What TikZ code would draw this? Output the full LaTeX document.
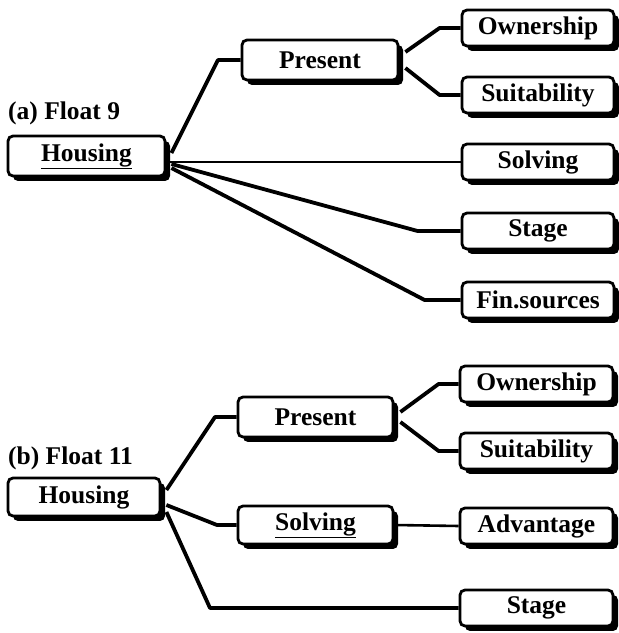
\documentclass[tikz,border=0pt]{standalone}
\usepackage{fontspec}
\setmainfont{Liberation Serif}
\usetikzlibrary{calc,shadows}

\tikzset{
  box/.style={draw, line width=2.8pt, rounded corners=5pt, fill=white,
    font=\fontsize{25.5}{29}\selectfont\bfseries,
    minimum width=152pt, minimum height=36pt, inner sep=0pt,
    drop shadow={shadow xshift=5pt, shadow yshift=-5pt, fill=black, opacity=1}},
  bigbox/.style={box, minimum width=156pt, minimum height=40pt},
  title/.style={anchor=base west, inner sep=0pt, font=\fontsize{25.5}{29}\selectfont\bfseries},
  link/.style={line width=3.8pt, line join=round},
  thinlink/.style={line width=2.6pt}
}

\begin{document}
\begin{tikzpicture}[x=1pt,y=1pt]
		\useasboundingbox (0,0) rectangle (619,633);
		
		%%%%% (a) Float 9 %%%%%
		
		\node[title] (titleA) at (8,513) {(a) Float 9};
		\node[bigbox, minimum width=157pt] (housingA) at (86.5,477) {\underline{Housing}};
		\node[bigbox] (presentA) at (320,573) {Present};
		
		\node[box] (ownA) at (538,605) {Ownership};
		\node[box] (suitA) at (538,538) {Suitability};
		\node[box] (solvA) at (538,471) {Solving};
		\node[box] (stageA) at (538,402) {Stage};
		\node[box] (finA) at (538,333) {Fin.sources};
		
		\draw[link] ([shift={(5,3)}]housingA.east) -- (218,573) -- (presentA.west);
		\draw[thinlink] (housingA.east |- solvA.west) -- (solvA.west);
		\draw[link] ([shift={(5,-8)}]housingA.east) -- ($(stageA.west)+(-43,0)$) -- (stageA.west);
		\draw[link] ([shift={(5,-12)}]housingA.east) -- ($(finA.west)+(-36,0)$) -- (finA.west);
		
		\draw[link] ([shift={(6,8)}]presentA.east) -- ($(ownA.west)+(-21,0)$) -- (ownA.west);
		\draw[link] ([shift={(6,-8)}]presentA.east) -- ($(suitA.west)+(-21,0)$) -- (suitA.west);
		
		%%%%% (b) Float 11 %%%%%
		
		\node[title] (titleB) at (8,168) {(b) Float 11};
		\node[bigbox, minimum width=152pt, minimum height=38pt] (housingB) at (84,136) {Housing};
		\node[bigbox, minimum width=155pt] (presentB) at (315.5,216) {Present};
		\node[bigbox, minimum width=155pt, minimum height=38pt] (solvB) at (315.5,108) {\underline{Solving}};
		
		\node[box, minimum width=153pt] (ownB) at (536.5,249) {Ownership};
		\node[box, minimum width=153pt] (suitB) at (536.5,182) {Suitability};
		\node[box, minimum width=153pt] (advB) at (536.5,107) {Advantage};
		\node[box, minimum width=153pt] (stageB) at (536.5,25) {Stage};
		
		\draw[link] ([shift={(5,7)}]housingB.east) -- (215,216) -- (presentB.west);
		\draw[link] ([shift={(5,-8)}]housingB.east) -- (217,108) -- (solvB.west);
		\draw[link] ([shift={(5,-15)}]housingB.east) -- (210,25) -- (stageB.west);
		
		\draw[link] ([shift={(6,5)}]presentB.east) -- ($(ownB.west)+(-20,0)$) -- (ownB.west);
		\draw[link] ([shift={(6,-5)}]presentB.east) -- ($(suitB.west)+(-20,0)$) -- (suitB.west);
		\draw[thinlink] (solvB.east) -- (advB.west);
		
\end{tikzpicture}
\end{document}
